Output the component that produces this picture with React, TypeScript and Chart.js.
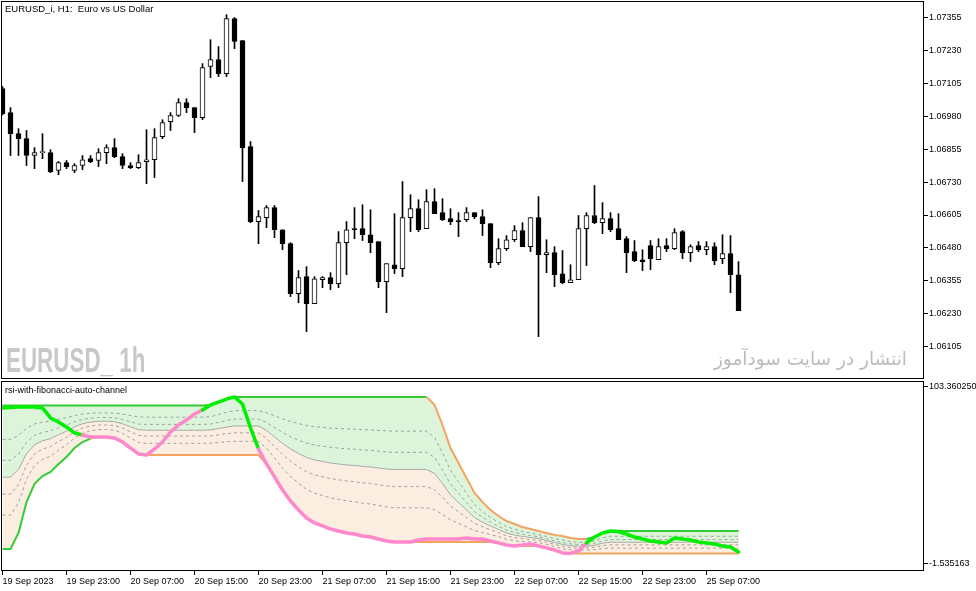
import React, { useEffect, useRef } from "react";
import { Chart, registerables } from "chart.js";
Chart.register(...registerables);

// ---------- price panel data (EURUSD_i, H1) ----------
const OPEN = [1.07085,1.06994,1.06914,1.06895,1.06831,1.06842,1.06842,1.06774,1.06804,1.06774,
1.06793,1.06819,1.06812,1.06842,1.06861,1.06827,1.06793,1.06785,1.06808,1.06815,
1.06903,1.06960,1.06983,1.07032,1.07013,1.06975,1.07169,1.07195,1.07142,1.07351,
1.07268,1.06865,1.06580,1.06595,1.06633,1.06549,1.06496,1.06306,1.06371,1.06268,
1.06359,1.06367,1.06344,1.06500,1.06553,1.06553,1.06530,1.06504,1.06352,1.06416,
1.06401,1.06595,1.06629,1.06553,1.06656,1.06614,1.06591,1.06584,1.06587,1.06614,
1.06599,1.06572,1.06424,1.06477,1.06511,1.06546,1.06485,1.06595,1.06454,1.06462,
1.06382,1.06348,1.06359,1.06553,1.06603,1.06576,1.06591,1.06553,1.06515,1.06466,
1.06435,1.06489,1.06435,1.06489,1.06477,1.06542,1.06462,1.06489,1.06473,1.06485,
1.06439,1.06458,1.06378];
const HIGH = [1.07093,1.07013,1.06933,1.06926,1.06861,1.06914,1.06853,1.06808,1.06812,1.06800,
1.06831,1.06831,1.06857,1.06872,1.06895,1.06838,1.06804,1.06834,1.06929,1.06933,
1.06967,1.06994,1.07047,1.07047,1.07013,1.07180,1.07271,1.07245,1.07366,1.07355,
1.07268,1.06884,1.06622,1.06641,1.06641,1.06549,1.06500,1.06394,1.06409,1.06371,
1.06371,1.06386,1.06542,1.06580,1.06633,1.06644,1.06625,1.06504,1.06420,1.06610,
1.06732,1.06682,1.06663,1.06701,1.06705,1.06667,1.06629,1.06614,1.06633,1.06614,
1.06625,1.06572,1.06515,1.06527,1.06565,1.06576,1.06595,1.06675,1.06511,1.06485,
1.06470,1.06416,1.06603,1.06614,1.06717,1.06652,1.06614,1.06610,1.06523,1.06508,
1.06473,1.06508,1.06515,1.06515,1.06553,1.06546,1.06492,1.06504,1.06504,1.06500,
1.06530,1.06527,1.06428];
const LOW = [1.06985,1.06831,1.06831,1.06793,1.06781,1.06819,1.06766,1.06758,1.06781,1.06766,
1.06777,1.06804,1.06789,1.06800,1.06823,1.06781,1.06781,1.06781,1.06724,1.06747,
1.06895,1.06926,1.06979,1.06994,1.06918,1.06967,1.07127,1.07131,1.07131,1.07237,
1.06732,1.06576,1.06496,1.06557,1.06519,1.06473,1.06295,1.06272,1.06162,1.06268,
1.06329,1.06321,1.06329,1.06378,1.06515,1.06508,1.06462,1.06329,1.06234,1.06382,
1.06371,1.06542,1.06542,1.06553,1.06610,1.06584,1.06568,1.06523,1.06580,1.06591,
1.06527,1.06405,1.06416,1.06470,1.06504,1.06485,1.06466,1.06143,1.06386,1.06333,
1.06344,1.06348,1.06359,1.06413,1.06572,1.06534,1.06542,1.06511,1.06386,1.06428,
1.06394,1.06397,1.06435,1.06466,1.06473,1.06439,1.06428,1.06466,1.06454,1.06416,
1.06420,1.06310,1.06242];
const CLOSE = [1.06990,1.06914,1.06895,1.06831,1.06842,1.06846,1.06770,1.06804,1.06789,1.06793,
1.06815,1.06808,1.06842,1.06861,1.06827,1.06793,1.06785,1.06804,1.06815,1.06899,
1.06956,1.06983,1.07032,1.07013,1.06975,1.07165,1.07195,1.07142,1.07351,1.07264,
1.06861,1.06580,1.06599,1.06633,1.06549,1.06496,1.06306,1.06367,1.06268,1.06363,
1.06367,1.06344,1.06500,1.06549,1.06549,1.06530,1.06500,1.06352,1.06420,1.06401,
1.06595,1.06629,1.06549,1.06656,1.06610,1.06587,1.06580,1.06580,1.06614,1.06599,
1.06572,1.06424,1.06477,1.06511,1.06546,1.06485,1.06595,1.06454,1.06462,1.06378,
1.06348,1.06359,1.06553,1.06603,1.06576,1.06591,1.06549,1.06511,1.06462,1.06432,
1.06428,1.06439,1.06485,1.06477,1.06538,1.06462,1.06485,1.06473,1.06485,1.06432,
1.06458,1.06378,1.06242];

const PRICE_TICKS = [1.06105,1.0623,1.06355,1.0648,1.06605,1.0673,1.06855,1.0698,1.07105,1.0723,1.07355];
const PRICE_MIN = 1.05982;
const PRICE_MAX = 1.07418;

// ---------- time axis ----------
const TIME_TICK_BARS = [0,8,16,24,32,40,48,56,64,72,80,88];
const TIME_TICK_LABELS = ["19 Sep 2023","19 Sep 23:00","20 Sep 07:00","20 Sep 15:00","20 Sep 23:00","21 Sep 07:00","21 Sep 15:00","21 Sep 23:00","22 Sep 07:00","22 Sep 15:00","22 Sep 23:00","25 Sep 07:00"];
const X_MIN = -0.1875;
const X_MAX = 115.1875;

// ---------- indicator panel (rsi-with-fibonacci-auto-channel) ----------
const RSI = [88.8,89.1,89.3,89.3,89.3,88.8,83.2,80.9,78.1,74.8,
73.6,72.5,72.5,72.5,72.0,69.7,66.3,63.0,62.4,65.8,
69.7,75.3,79.2,82.0,85.4,87.7,90.5,92.1,93.8,95.0,
91.0,77.6,65.8,57.4,50.1,42.8,36.6,31.6,27.1,24.3,
22.6,20.9,19.8,18.7,18.1,17.0,16.4,15.3,14.2,13.6,
13.6,13.6,14.7,15.3,15.3,15.3,15.3,15.3,15.9,15.3,
15.3,14.2,13.1,11.9,11.4,11.9,12.5,11.4,10.3,9.1,
7.5,7.2,8.6,13.1,16.4,18.7,19.8,19.5,18.1,16.4,
15.3,14.2,13.6,13.1,15.9,15.3,14.7,13.6,13.1,12.5,
11.4,10.8,8.0];
const UPPER = [90.2,90.2,90.2,90.2,90.2,90.2,90.2,90.2,90.2,90.2,
90.2,90.2,90.2,90.2,90.2,90.2,90.2,90.2,90.2,90.2,
90.2,90.2,90.2,90.2,90.2,90.2,90.5,92.1,93.8,95.0,
95.0,95.0,95.0,95.0,95.0,95.0,95.0,95.0,95.0,95.0,
95.0,95.0,95.0,95.0,95.0,95.0,95.0,95.0,95.0,95.0,
95.0,95.0,95.0,95.0,90.5,79.2,66.3,57.9,49.5,41.1,
36.0,31.6,28.2,25.4,23.7,22.0,20.9,19.8,18.7,17.5,
17.0,15.9,15.3,15.3,16.4,18.7,19.8,19.8,19.8,19.8,
19.8,19.8,19.8,19.8,19.8,19.8,19.8,19.8,19.8,19.8,
19.8,19.8,19.8];
const LOWER = [9.7,9.7,18.7,36.0,46.2,50.6,52.9,57.4,61.3,66.3,
69.7,71.6,72.5,72.5,72.0,69.7,66.3,63.0,62.4,62.4,
62.4,62.4,62.4,62.4,62.4,62.4,62.4,62.4,62.4,62.4,
62.4,62.4,62.4,57.4,50.1,42.8,36.6,31.6,27.1,24.3,
22.6,20.9,19.8,18.7,18.1,17.0,16.4,15.3,14.2,13.6,
13.6,13.6,13.6,13.6,13.6,13.6,13.6,13.6,13.6,13.6,
13.6,13.6,13.1,11.9,11.4,11.4,11.4,11.4,10.3,9.1,
7.5,7.2,7.2,7.2,7.2,7.2,7.2,7.2,7.2,7.2,
7.2,7.2,7.2,7.2,7.2,7.2,7.2,7.2,7.2,7.2,
7.2,7.2,7.2];
const RSI_GREEN_RUNS = [[0,10],[25,32],[73,92]];
const UPPER_ORANGE_RUNS = [[53,73]];
const LOWER_GREEN_RUNS = [[0,11]];
const FIB_LEVELS = [0.236,0.382,0.618,0.764];
const IND_MIN = -2.65;
const IND_MAX = 103.92;
const IND_TICK_VALUES = [100.56, 1.28];
const IND_TICK_LABELS = ["103.360250", "-1.535163"];

// ---------- styling ----------
const FONT = "'Liberation Sans', Arial, sans-serif";
const RSI_GREEN = "#00ee00";
const RSI_PINK = "#ff88cc";
const LINE_GREEN = "#33cc33";
const LINE_ORANGE = "#f4a460";
const FILL_GREEN = "#dcf5da";
const FILL_PEACH = "#fcede1";

const inRuns = (runs: number[][], i: number) => runs.some(([a, b]) => i >= a && i < b);

const framePlugin = {
  id: "frame",
  afterDraw(chart: any) {
    const { ctx, chartArea: a } = chart;
    ctx.save();
    ctx.strokeStyle = "#000";
    ctx.lineWidth = 1;
    ctx.strokeRect(a.left + 0.5, a.top + 0.5, a.right - a.left - 1, a.bottom - a.top - 1);
    ctx.restore();
  },
};

const noPad = (s: any) => {
  s.paddingTop = 0;
  s.paddingBottom = 0;
  s.paddingLeft = 0;
  s.paddingRight = 0;
};

export default function App() {
  const topRef = useRef<HTMLCanvasElement>(null);
  const botRef = useRef<HTMLCanvasElement>(null);

  useEffect(() => {
    const bodyColors = OPEN.map((o, i) => (CLOSE[i] > o ? "#ffffff" : "#000000"));
    const top = new Chart(topRef.current as HTMLCanvasElement, {
      type: "bar",
      data: {
        datasets: [
          {
            data: OPEN.map((o, i) => ({ x: i, y: [o, CLOSE[i]] })),
            backgroundColor: bodyColors,
            borderColor: "#000",
            borderWidth: 1,
            borderSkipped: false,
            barThickness: 5,
            grouped: false,
            minBarLength: 1,
          } as any,
          {
            data: LOW.map((l, i) => ({ x: i, y: [l, HIGH[i]] })),
            backgroundColor: "#000",
            borderWidth: 0,
            barThickness: 1,
            grouped: false,
          } as any,
        ],
      },
      options: {
        responsive: false,
        animation: false,
        layout: { padding: { left: 1, top: 1, bottom: 1, right: 0 } },
        plugins: { legend: { display: false }, tooltip: { enabled: false } },
        scales: {
          x: { type: "linear", display: false, min: X_MIN, max: X_MAX, offset: false } as any,
          y: {
            position: "right",
            min: PRICE_MIN,
            max: PRICE_MAX,
            afterBuildTicks: (s: any) => { s.ticks = PRICE_TICKS.map((v) => ({ value: v })); },
            afterFit: (s: any) => { s.width = 52; noPad(s); },
            ticks: { callback: (v: any) => Number(v).toFixed(5), font: { family: FONT, size: 9 }, color: "#000", padding: 1 },
            grid: { drawOnChartArea: false, tickLength: 4, color: "#000" },
            border: { display: false },
          } as any,
        },
      },
      plugins: [framePlugin],
    });

    const pts = (arr: number[]) => arr.map((v, i) => ({ x: i, y: v }));
    const mid = UPPER.map((u, i) => (u + LOWER[i]) / 2);
    const fibSets = FIB_LEVELS.map((f) => ({
      data: pts(UPPER.map((u, i) => u - f * (u - LOWER[i]))),
      borderColor: "#a0a0a0",
      borderWidth: 1,
      borderDash: [3, 3],
      pointRadius: 0,
      fill: false,
    }));

    const bot = new Chart(botRef.current as HTMLCanvasElement, {
      type: "line",
      data: {
        datasets: [
          // 0: RSI line (colour by state)
          {
            data: pts(RSI),
            borderColor: RSI_GREEN,
            borderWidth: 3.5,
            borderJoinStyle: "round",
            borderCapStyle: "round",
            pointRadius: 0,
            fill: false,
            segment: { borderColor: (c: any) => (inRuns(RSI_GREEN_RUNS, c.p0DataIndex) ? RSI_GREEN : RSI_PINK) },
          },
          // 1: upper channel line
          {
            data: pts(UPPER),
            borderColor: LINE_GREEN,
            borderWidth: 2,
            pointRadius: 0,
            fill: false,
            segment: { borderColor: (c: any) => (inRuns(UPPER_ORANGE_RUNS, c.p0DataIndex) ? LINE_ORANGE : LINE_GREEN) },
          },
          // 2: lower channel line
          {
            data: pts(LOWER),
            borderColor: LINE_ORANGE,
            borderWidth: 2,
            pointRadius: 0,
            fill: false,
            segment: { borderColor: (c: any) => (inRuns(LOWER_GREEN_RUNS, c.p0DataIndex) ? LINE_GREEN : LINE_ORANGE) },
          },
          // 3: middle line, fills up to upper boundary (4)
          {
            data: pts(mid),
            borderColor: "#a8a8a8",
            borderWidth: 1,
            pointRadius: 0,
            fill: 4,
            backgroundColor: FILL_GREEN,
          },
          // 4: upper fill boundary (invisible)
          {
            data: pts(UPPER),
            borderColor: "rgba(0,0,0,0)",
            borderWidth: 1,
            pointRadius: 0,
            fill: false,
          },
          // 5: lower fill boundary, fills to middle (3)
          {
            data: pts(LOWER),
            borderColor: "rgba(0,0,0,0)",
            borderWidth: 1,
            pointRadius: 0,
            fill: 3,
            backgroundColor: FILL_PEACH,
          },
          ...fibSets,
        ] as any,
      },
      options: {
        responsive: false,
        animation: false,
        layout: { padding: { left: 1, top: 1, bottom: 0, right: 0 } },
        plugins: {
          legend: { display: false },
          tooltip: { enabled: false },
          filler: { drawTime: "beforeDatasetsDraw", propagate: false },
        } as any,
        scales: {
          x: {
            type: "linear",
            min: X_MIN,
            max: X_MAX,
            offset: false,
            afterBuildTicks: (s: any) => { s.ticks = TIME_TICK_BARS.map((v) => ({ value: v })); },
            afterFit: (s: any) => { s.height = 20; noPad(s); },
            ticks: {
              callback: (_v: any, idx: number) => TIME_TICK_LABELS[idx],
              align: "start",
              maxRotation: 0,
              minRotation: 0,
              autoSkip: false,
              font: { family: FONT, size: 9 },
              color: "#000",
              padding: 1,
            },
            grid: { drawOnChartArea: false, tickLength: 4, color: "#000" },
            border: { display: false },
          } as any,
          y: {
            position: "right",
            min: IND_MIN,
            max: IND_MAX,
            afterBuildTicks: (s: any) => { s.ticks = IND_TICK_VALUES.map((v) => ({ value: v })); },
            afterFit: (s: any) => { s.width = 52; noPad(s); },
            ticks: { callback: (_v: any, idx: number) => IND_TICK_LABELS[idx], font: { family: FONT, size: 9 }, color: "#000", padding: 1 },
            grid: { drawOnChartArea: false, tickLength: 4, color: "#000" },
            border: { display: false },
          } as any,
        },
      },
      plugins: [framePlugin],
    });

    return () => {
      top.destroy();
      bot.destroy();
    };
  }, []);

  return (
    <div style={{ position: "fixed", left: 0, top: 0, width: 976, height: 591, background: "#fff", overflow: "hidden" }}>
      <canvas ref={topRef} width={976} height={380} style={{ position: "absolute", left: 0, top: 0, width: 976, height: 380 }} />
      <canvas ref={botRef} width={976} height={211} style={{ position: "absolute", left: 0, top: 380, width: 976, height: 211 }} />
      <div style={{ position: "absolute", left: 5, top: 4, font: `9.5px ${FONT}`, lineHeight: "10px", color: "#000", whiteSpace: "pre" }}>
        {"EURUSD_i, H1:  Euro vs US Dollar"}
      </div>
      <div
        style={{
          position: "absolute",
          left: 6,
          top: 342,
          font: `bold 35px 'Liberation Sans', Arial, sans-serif`,
          lineHeight: "35px",
          color: "#c8c8c8",
          whiteSpace: "pre",
          transform: "scaleX(0.64)",
          transformOrigin: "top left",
        }}
      >
        {"EURUSD_ 1h"}
      </div>
      <div
        style={{
          position: "absolute",
          right: 69,
          top: 349,
          font: `18.5px 'DejaVu Sans', sans-serif`,
          lineHeight: "20px",
          color: "#bcbcbc",
          direction: "rtl",
          whiteSpace: "nowrap",
        }}
      >
        انتشار در سایت سودآموز
      </div>
      <div style={{ position: "absolute", left: 5, top: 386, font: `9px ${FONT}`, lineHeight: "9px", color: "#000", whiteSpace: "pre" }}>
        rsi-with-fibonacci-auto-channel
      </div>
    </div>
  );
}
